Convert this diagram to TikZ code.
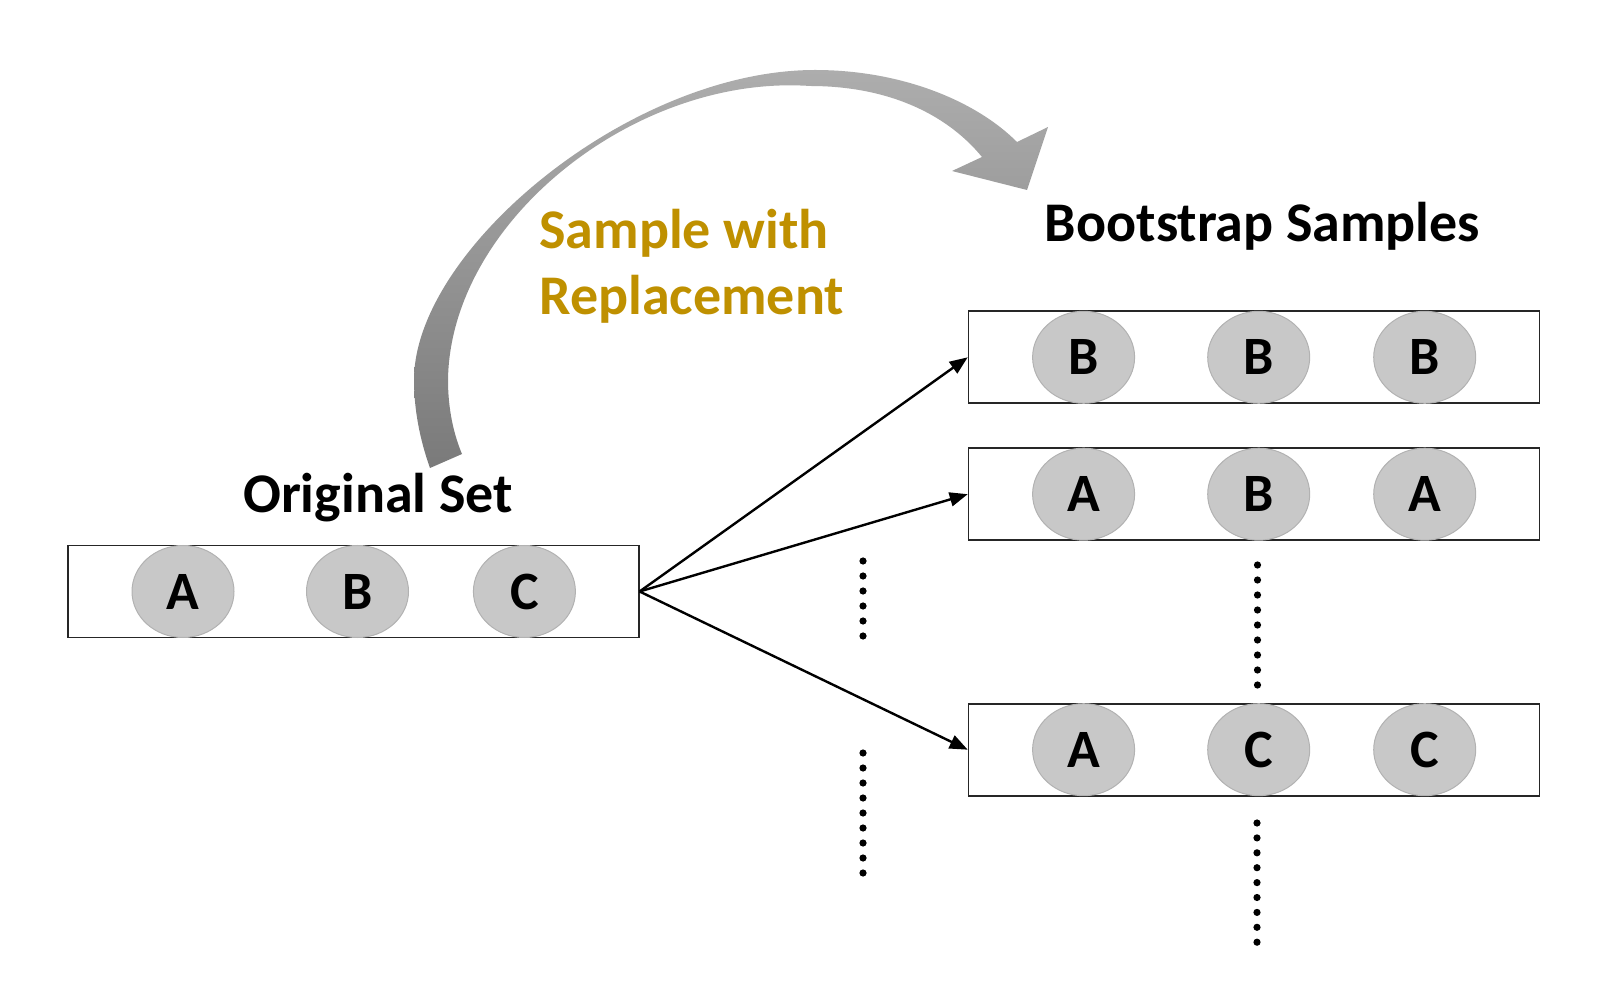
\documentclass[tikz,border=0pt]{standalone}
\usepackage{fontspec}
\setmainfont{Carlito}
\usetikzlibrary{arrows.meta,shapes.geometric}
\definecolor{gold}{HTML}{BF9000}
\definecolor{ballfill}{HTML}{C8C8C8}
\definecolor{balledge}{HTML}{B2B2B2}
\definecolor{arrowtop}{HTML}{ADADAD}
\definecolor{arrowbot}{HTML}{7A7A7A}
\begin{document}
\begin{tikzpicture}[x=0.5pt,y=-0.5pt,
  setbox/.style={draw=black!85, line width=0.8pt, minimum width=285.5pt, minimum height=46pt, inner sep=0pt},
  ball/.style={ellipse, fill=ballfill, draw=balledge, line width=0.5pt, minimum width=51pt, minimum height=46pt, inner sep=0pt, font=\bfseries\fontsize{27}{32}\selectfont},
  lbl/.style={font=\bfseries\fontsize{28}{33}\selectfont, inner sep=0pt},
  samplearrow/.style={line width=1.2pt, -{Triangle[length=9pt,width=7pt]}},
  dotmark/.style={fill=black}
]
\useasboundingbox (0,0) rectangle (1606,988);

% curved block arrow
\shade[top color=arrowtop, bottom color=arrowbot]
  (430,468) .. controls (420,440) and (414,410) .. (414,380)
  .. controls (414,250) and (630,70) .. (815,70)
  .. controls (900,70) and (975,100) .. (1017,142)
  -- (1048,127) -- (1027,190) -- (952,171) -- (982,157)
  .. controls (945,112) and (885,86) .. (810,86)
  .. controls (635,74) and (450,222) .. (448,380)
  .. controls (448,410) and (454,435) .. (462,454)
  -- cycle;

% boxes
\node[setbox] (orig) at (353.3,591.5) {};
\node[setbox] (s1) at (1254,357.3) {};
\node[setbox] (s2) at (1254,494.2) {};
\node[setbox] (s3) at (1254,749.7) {};

% balls
\node[ball] (oA) at (183,591.5) {A};
\node[ball] (oB) at (357.5,591.5) {B};
\node[ball] (oC) at (524.4,591.5) {C};

\node[ball] (s1a) at (1083.6,357.3) {B};
\node[ball] (s1b) at (1258.7,357.3) {B};
\node[ball] (s1c) at (1424.7,357.3) {B};

\node[ball] (s2a) at (1083.6,494.2) {A};
\node[ball] (s2b) at (1258.7,494.2) {B};
\node[ball] (s2c) at (1424.7,494.2) {A};

\node[ball] (s3a) at (1083.6,749.7) {A};
\node[ball] (s3b) at (1258.7,749.7) {C};
\node[ball] (s3c) at (1424.7,749.7) {C};

% labels
\node[lbl, anchor=base] (origlbl) at (378,513) {Original Set};
\node[lbl, anchor=base] (bootlbl) at (1262.5,242) {Bootstrap Samples};
\node[lbl, text=gold, anchor=base west] (swlbl) at (539,249) {Sample with};
\node[lbl, text=gold, anchor=base west] (rplbl) at (539,315) {Replacement};

% arrows
\draw[samplearrow] (orig.east) -- (s1.west);
\draw[samplearrow] (orig.east) -- (s2.west);
\draw[samplearrow] (orig.east) -- (s3.west);

% dotted columns
\foreach \i in {0,...,5} \fill[dotmark] (863,561+15*\i) circle[radius=1.8pt];
\foreach \i in {0,...,8} \fill[dotmark] (863,753+15*\i) circle[radius=1.8pt];
\foreach \i in {0,...,8} \fill[dotmark] (1257.5,565+15*\i) circle[radius=1.8pt];
\foreach \i in {0,...,8} \fill[dotmark] (1257,823+14.9*\i) circle[radius=1.8pt];
\end{tikzpicture}
\end{document}
